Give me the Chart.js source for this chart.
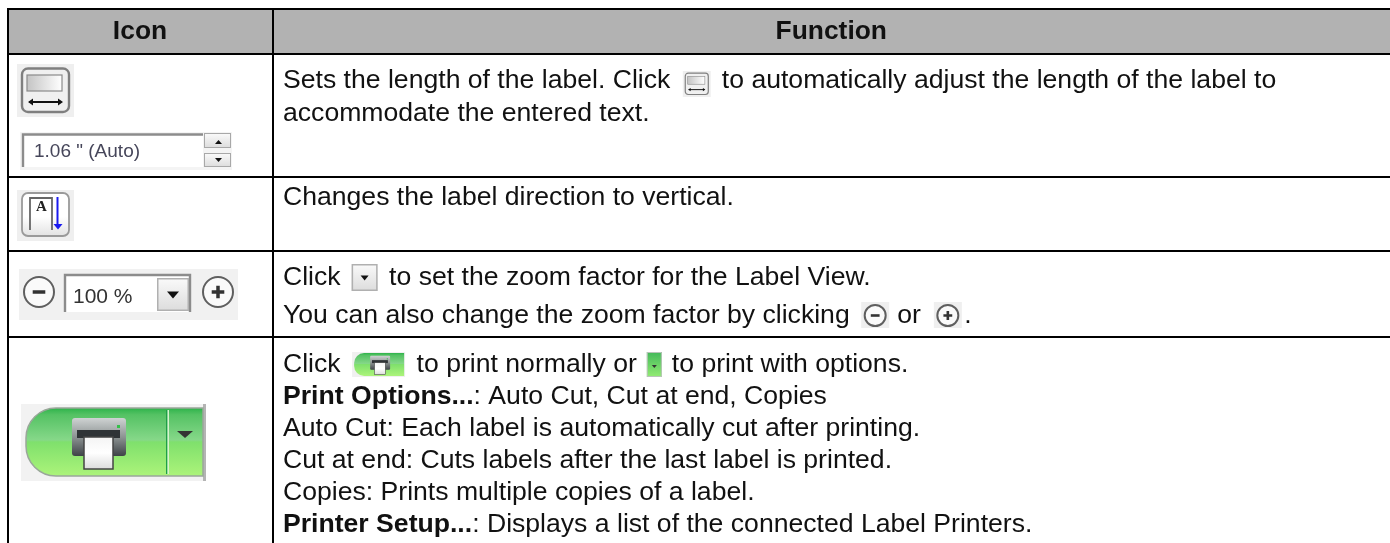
<!DOCTYPE html>
<html>
<head>
<meta charset="utf-8">
<title>Icon table</title>
<script src="https://cdn.jsdelivr.net/npm/chart.js@4/dist/chart.umd.min.js"></script>
<style>
  html, body { margin: 0; padding: 0; background: #fff; }
  #wrap { width: 1390px; height: 543px; }
</style>
</head>
<body>
<div id="wrap"><canvas id="chart"></canvas></div>
<script>
const columnHeaders = ['Icon', 'Function'];
const spinText = '1.06 " (Auto)';
const zoomText = '100 %';
// kazdy wiersz tekstu to lista kawalkow: [tekst, pogrubienie] albo [nazwa ikony]
const rowOneLines = [
  [['Sets the length of the label. Click'], ['length'], ['to automatically adjust the length of the label to']],
  [['accommodate the entered text.']]
];
const rowTwoLines = [
  [['Changes the label direction to vertical.']]
];
const rowThreeLines = [
  [['Click'], ['drop'], ['to set the zoom factor for the Label View.']],
  [['You can also change the zoom factor by clicking'], ['minus'], ['or'], ['plus'], ['.']]
];
const rowFourLines = [
  [['Click'], ['print'], ['to print normally or'], ['printOpt'], ['to print with options.']],
  [['Print Options...', true], [': Auto Cut, Cut at end, Copies']],
  [['Auto Cut: Each label is automatically cut after printing.']],
  [['Cut at end: Cuts labels after the last label is printed.']],
  [['Copies: Prints multiple copies of a label.']],
  [['Printer Setup...', true], [': Displays a list of the connected Label Printers.']]
];

// krawedzie tabeli w jednostkach osi (1 jednostka = 1 px)
const columnEdges = [7.5, 272.5];
const rowEdges = [9, 54, 176.5, 250.5, 336.5];

const FONT = '"Liberation Sans", Arial, sans-serif';
const TEXT_SIZE = 26.6;
// odstep przed ikona w tekscie, jej szerokosc i odstep za nia
const inlineIcons = {
  length: { before: 12.5, width: 28, after: 11 },
  drop: { before: 11, width: 26, after: 11.5 },
  minus: { before: 11.5, width: 28, after: 8 },
  plus: { before: 13, width: 28, after: 2.5 },
  print: { before: 11.5, width: 52, after: 12.5 },
  printOpt: { before: 10, width: 15, after: 10 }
};

function roundBox(ctx, x, y, w, h, r, fill, stroke, lw) {
  ctx.beginPath();
  ctx.roundRect(x, y, w, h, r);
  if (fill) { ctx.fillStyle = fill; ctx.fill(); }
  if (stroke) { ctx.strokeStyle = stroke; ctx.lineWidth = lw || 1; ctx.stroke(); }
}

function vGrad(ctx, y0, y1, stops) {
  const g = ctx.createLinearGradient(0, y0, 0, y1);
  stops.forEach((c, i) => g.addColorStop(Array.isArray(c) ? c[0] : i / (stops.length - 1), Array.isArray(c) ? c[1] : c));
  return g;
}

function triangle(ctx, x0, x1, y0, y1, color) {
  ctx.fillStyle = color;
  ctx.beginPath();
  ctx.moveTo(x0, y0);
  ctx.lineTo(x1, y0);
  ctx.lineTo((x0 + x1) / 2, y1);
  ctx.closePath();
  ctx.fill();
}

function drawLengthIcon(ctx, x, y, s) {
  ctx.save();
  ctx.translate(x, y);
  ctx.scale(s, s);
  ctx.fillStyle = '#efefef';
  ctx.fillRect(0, 0, 57, 53);
  roundBox(ctx, 5, 4.5, 47, 43.5, 6, '#f0f0f0', '#7f7f7f', 2.4);
  const g = ctx.createLinearGradient(10, 0, 45, 0);
  g.addColorStop(0, '#c4c4c4');
  g.addColorStop(1, '#ffffff');
  ctx.fillStyle = g;
  ctx.fillRect(10, 11, 35, 16);
  ctx.strokeStyle = '#8a8a8a';
  ctx.lineWidth = 1.2;
  ctx.strokeRect(10, 11, 35, 16);
  ctx.strokeStyle = '#111';
  ctx.lineWidth = 2;
  ctx.beginPath();
  ctx.moveTo(12, 38);
  ctx.lineTo(44, 38);
  ctx.stroke();
  ctx.fillStyle = '#111';
  ctx.beginPath();
  ctx.moveTo(11, 38); ctx.lineTo(16, 34.5); ctx.lineTo(16, 41.5); ctx.closePath();
  ctx.moveTo(46, 38); ctx.lineTo(41, 34.5); ctx.lineTo(41, 41.5); ctx.closePath();
  ctx.fill();
  ctx.restore();
}

function drawSpinBox(ctx) {
  ctx.fillStyle = '#f4f4f4';
  ctx.fillRect(20, 132, 212, 38);
  ctx.fillStyle = '#fff';
  ctx.fillRect(22, 134, 181, 33);
  ctx.strokeStyle = '#8c8c8c';
  ctx.lineWidth = 2.4;
  ctx.beginPath();
  ctx.moveTo(23, 167); ctx.lineTo(23, 134.5); ctx.lineTo(203, 134.5);
  ctx.stroke();
  ctx.font = '19px ' + FONT;
  ctx.fillStyle = '#46465a';
  ctx.textAlign = 'left';
  ctx.textBaseline = 'alphabetic';
  ctx.fillText(spinText, 34, 157);
  [[133, 148], [153, 167]].forEach(([y0, y1]) => {
    ctx.fillStyle = vGrad(ctx, y0, y1, ['#fbfbfb', '#dcdcdc']);
    ctx.fillRect(204, y0, 27, y1 - y0);
    ctx.strokeStyle = '#a8a8a8';
    ctx.lineWidth = 1;
    ctx.strokeRect(204.5, y0 + .5, 26, y1 - y0 - 1);
  });
  ctx.fillStyle = '#111';
  ctx.beginPath();
  ctx.moveTo(215, 144); ctx.lineTo(222, 144); ctx.lineTo(218.5, 140); ctx.closePath();
  ctx.fill();
  triangle(ctx, 215, 222, 158, 162, '#111');
}

function drawDirectionIcon(ctx) {
  ctx.fillStyle = '#efefef';
  ctx.fillRect(17, 190, 57, 51);
  roundBox(ctx, 22, 193, 47, 43, 6, vGrad(ctx, 193, 236, ['#ffffff', [0.55, '#ffffff'], [1, '#e2e2e2']]), '#9a9a9a', 1.8);
  ctx.strokeStyle = '#666';
  ctx.lineWidth = 1.8;
  ctx.beginPath();
  ctx.moveTo(30, 230); ctx.lineTo(30, 198); ctx.lineTo(52, 198); ctx.lineTo(52, 230);
  ctx.stroke();
  ctx.font = 'bold 15px "Liberation Serif", serif';
  ctx.fillStyle = '#222';
  ctx.textAlign = 'center';
  ctx.fillText('A', 41.5, 211);
  ctx.strokeStyle = '#1a1af0';
  ctx.lineWidth = 2;
  ctx.beginPath();
  ctx.moveTo(57.5, 197); ctx.lineTo(57.5, 225);
  ctx.stroke();
  triangle(ctx, 53.5, 62.5, 224, 229.5, '#1a1af0');
}

function drawCircleSign(ctx, cx, cy, r, plus) {
  ctx.beginPath();
  ctx.arc(cx, cy, r, 0, Math.PI * 2);
  ctx.fillStyle = '#fafafa';
  ctx.fill();
  ctx.strokeStyle = '#5f5f5f';
  ctx.lineWidth = 2;
  ctx.stroke();
  const a = r * 0.42;
  ctx.lineWidth = r > 12 ? 3.5 : 2.6;
  ctx.strokeStyle = '#333';
  ctx.beginPath();
  ctx.moveTo(cx - a, cy); ctx.lineTo(cx + a, cy);
  if (plus) { ctx.moveTo(cx, cy - a); ctx.lineTo(cx, cy + a); }
  ctx.stroke();
}

function drawDropButton(ctx, x, y, w, h, s) {
  ctx.fillStyle = vGrad(ctx, y, y + h, ['#fafafa', '#dcdcdc']);
  ctx.fillRect(x, y, w, h);
  ctx.strokeStyle = '#b0b0b0';
  ctx.lineWidth = 1.5;
  ctx.strokeRect(x + .75, y + .75, w - 1.5, h - 1.5);
  triangle(ctx, x + w / 2 - s, x + w / 2 + s, y + h / 2 - s / 2, y + h / 2 + s / 2 + 1, '#111');
}

function drawZoomBar(ctx) {
  ctx.fillStyle = '#f1f1f1';
  ctx.fillRect(19, 269, 219, 51);
  drawCircleSign(ctx, 39, 292, 15, false);
  drawCircleSign(ctx, 218, 292, 15, true);
  ctx.fillStyle = '#fff';
  ctx.fillRect(64, 274, 126, 38);
  ctx.strokeStyle = '#8c8c8c';
  ctx.lineWidth = 2.4;
  ctx.beginPath();
  ctx.moveTo(65, 312); ctx.lineTo(65, 275); ctx.lineTo(190, 275); ctx.lineTo(190, 312);
  ctx.stroke();
  ctx.font = '21px ' + FONT;
  ctx.fillStyle = '#333';
  ctx.textAlign = 'left';
  ctx.fillText(zoomText, 73, 303);
  drawDropButton(ctx, 157, 278, 32, 33, 6);
}

function printerGlyph(ctx) {
  ctx.fillStyle = vGrad(ctx, 10, 48, ['#cfd3d3', '#8d9393', '#3e4347']);
  ctx.beginPath();
  ctx.roundRect(46, 10, 54, 38, 3);
  ctx.fill();
  ctx.fillStyle = '#2f3336';
  ctx.fillRect(51, 22, 43, 8);
  ctx.fillStyle = vGrad(ctx, 29, 61, ['#f4f4f4', '#ffffff', '#dcdcdc']);
  ctx.fillRect(58, 29, 29, 32);
  ctx.strokeStyle = '#444';
  ctx.lineWidth = 1.5;
  ctx.strokeRect(58, 29, 29, 32);
  ctx.fillStyle = '#35c04a';
  ctx.fillRect(91, 17, 3, 3);
}

const buttonStops = [[0, '#2db34a'], [0.1, '#55c264'], [0.47, '#86d889'], [0.5, '#7fe06c'], [1, '#acf47a']];

function drawPrintButton(ctx, x, y) {
  ctx.save();
  ctx.translate(x, y);
  ctx.fillStyle = '#f2f2f2';
  ctx.fillRect(-5, -4, 185, 77);
  ctx.fillStyle = '#b4b4b4';
  ctx.fillRect(177, -4, 3, 77);
  ctx.beginPath();
  ctx.roundRect(0, 0, 177, 68, [30, 0, 0, 30]);
  ctx.fillStyle = vGrad(ctx, 0, 68, buttonStops);
  ctx.fill();
  ctx.strokeStyle = '#9aa79a';
  ctx.lineWidth = 1.5;
  ctx.stroke();
  ctx.fillStyle = '#1f9f47';
  ctx.fillRect(140, 2, 1.5, 64);
  ctx.fillStyle = '#d6f3d0';
  ctx.fillRect(141.5, 2, 1.5, 64);
  triangle(ctx, 151, 167, 23, 30, '#333');
  printerGlyph(ctx);
  ctx.restore();
}

function drawInlinePrint(ctx, x, y) {
  ctx.fillStyle = '#f0f0f0';
  ctx.fillRect(x, y, 53, 25);
  ctx.beginPath();
  ctx.roundRect(x + 2, y + 1, 50, 23, [10, 0, 0, 10]);
  ctx.fillStyle = vGrad(ctx, y + 1, y + 24, buttonStops);
  ctx.fill();
  ctx.save();
  ctx.translate(x + 1, y);
  ctx.scale(0.37, 0.37);
  printerGlyph(ctx);
  ctx.restore();
}

function drawInlineIcon(ctx, name, x, baseline) {
  if (name === 'length') drawLengthIcon(ctx, x, baseline - 17, 0.49);
  if (name === 'drop') drawDropButton(ctx, x, baseline - 21, 26, 27, 4);
  if (name === 'minus' || name === 'plus') {
    ctx.fillStyle = '#efefef';
    ctx.fillRect(x, baseline - 21, 28, 26);
    drawCircleSign(ctx, x + 14, baseline - 7.5, 10.5, name === 'plus');
  }
  if (name === 'print') drawInlinePrint(ctx, x, baseline - 20);
  if (name === 'printOpt') {
    ctx.fillStyle = vGrad(ctx, baseline - 20, baseline + 5, ['#43b95a', '#93ec73']);
    ctx.fillRect(x, baseline - 20, 15, 25);
    ctx.strokeStyle = '#b8c4b8';
    ctx.lineWidth = 1;
    ctx.strokeRect(x + .5, baseline - 19.5, 14, 24);
    triangle(ctx, x + 5, x + 10, baseline - 7, baseline - 4, '#333');
  }
}

function drawLine(ctx, runs, x, baseline) {
  let cx = x;
  runs.forEach(([content, bold]) => {
    const icon = inlineIcons[content];
    if (icon) {
      cx += icon.before;
      drawInlineIcon(ctx, content, cx, baseline);
      cx += icon.width + icon.after;
      return;
    }
    ctx.font = (bold ? 'bold ' : '') + TEXT_SIZE + 'px ' + FONT;
    ctx.fillStyle = '#111';
    ctx.textAlign = 'left';
    ctx.textBaseline = 'alphabetic';
    ctx.fillText(content, cx, baseline);
    cx += ctx.measureText(content).width;
  });
}

const tablePlugin = {
  id: 'table',
  beforeDraw(chart) {
    const { ctx, scales: { x, y } } = chart;
    ctx.fillStyle = '#b2b2b2';
    ctx.fillRect(x.getPixelForValue(columnEdges[0]), y.getPixelForValue(rowEdges[0]),
      x.getPixelForValue(1390) - x.getPixelForValue(columnEdges[0]),
      y.getPixelForValue(rowEdges[1]) - y.getPixelForValue(rowEdges[0]));
  },
  afterDraw(chart) {
    const { ctx, scales: { x, y } } = chart;
    ctx.save();
    ctx.font = 'bold 26.4px ' + FONT;
    ctx.fillStyle = '#111';
    ctx.textAlign = 'center';
    ctx.textBaseline = 'alphabetic';
    ctx.fillText(columnHeaders[0], (x.getPixelForValue(columnEdges[0]) + x.getPixelForValue(columnEdges[1])) / 2, 38.5);
    ctx.fillText(columnHeaders[1], (x.getPixelForValue(columnEdges[1]) + x.getPixelForValue(1390)) / 2, 38.5);

    const textX = x.getPixelForValue(columnEdges[1]) + 10.5;
    rowOneLines.forEach((l, i) => drawLine(ctx, l, textX, 88 + i * 33));
    rowTwoLines.forEach((l, i) => drawLine(ctx, l, textX, 205));
    rowThreeLines.forEach((l, i) => drawLine(ctx, l, textX, 285 + i * 38));
    rowFourLines.forEach((l, i) => drawLine(ctx, l, textX, 372 + i * 32));

    drawLengthIcon(ctx, 17, 64, 1);
    drawSpinBox(ctx);
    drawDirectionIcon(ctx);
    drawZoomBar(ctx);
    drawPrintButton(ctx, 26, 408);
    ctx.restore();
  }
};

const gridStyle = { color: '#000', lineWidth: 2, drawTicks: false };

new Chart(document.getElementById('chart'), {
  type: 'scatter',
  data: { datasets: [{ data: [], pointRadius: 0 }] },
  options: {
    responsive: true,
    maintainAspectRatio: false,
    animation: false,
    layout: { padding: { left: 6.5, top: 8 } },
    plugins: { legend: { display: false }, tooltip: { enabled: false } },
    scales: {
      x: {
        type: 'linear', min: 6.5, max: 1390,
        border: { display: false },
        grid: gridStyle,
        ticks: { display: false },
        afterBuildTicks: s => { s.ticks = columnEdges.map(value => ({ value })); }
      },
      y: {
        type: 'linear', reverse: true, min: 8, max: 543,
        border: { display: false },
        grid: gridStyle,
        ticks: { display: false },
        afterBuildTicks: s => { s.ticks = rowEdges.map(value => ({ value })); }
      }
    }
  },
  plugins: [tablePlugin]
});
</script>
</body>
</html>
